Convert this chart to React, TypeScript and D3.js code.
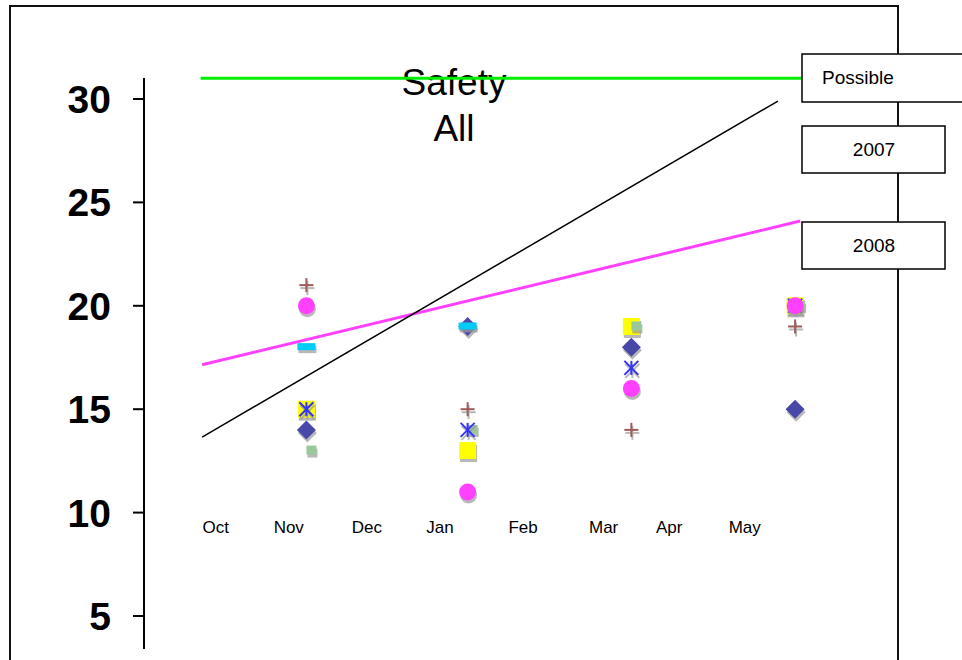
import React from "react";
import * as d3 from "d3";

// x values are days since Oct 1
const monthLabels = ["Oct", "Nov", "Dec", "Jan", "Feb", "Mar", "Apr", "May"];
const monthLabelDays = [1, 30, 61, 90, 123, 155, 181, 211];
const yTicks = [5, 10, 15, 20, 25, 30];

const sampleDays = [37, 101, 166, 231];
const greenDays = [39, 103, 168, 233];

const diamondValues = [14, 19, 18, 15];
const yellowValues = [15, 13, 19, 20];
const greenValues = [13, 14, 19, 20];
const asteriskValues = [15, 14, 17, 20];
const cyanValues: (number | null)[] = [18, 19, null, null];
const circleValues = [20, 11, 16, 20];
const plusValues = [21, 15, 14, 19];

const possibleLine = { days: [-5, 234], values: [31, 31] };
const line2007 = { days: [-4.4, 224.2], values: [13.65, 29.9] };
const line2008 = { days: [-4.4, 233], values: [17.15, 24.1] };

const legendLabels = ["Possible", "2007", "2008"];

const FONT = "'Liberation Sans', Arial, sans-serif";

export default function App() {
  const W = 962, H = 660;
  const x = d3.scaleLinear().domain([0, 100]).range([213.2, 213.2 + 251.9]);
  const y = d3.scaleLinear().domain([5, 30]).range([616, 99]);
  const lineGen = d3.line<[number, number]>().x(d => x(d[0])).y(d => y(d[1]));
  const mk = (l: { days: number[]; values: number[] }) =>
    lineGen(l.days.map((dd, i) => [dd, l.values[i]] as [number, number])) || "";

  const shadow = "#9a9a9a";
  const sdx = 1, sdy = 3;

  const diamond = (cx: number, cy: number, fill: string, k: string) => {
    const s = 9.5;
    const p = `M${cx},${cy - s}L${cx + s},${cy}L${cx},${cy + s}L${cx - s},${cy}Z`;
    return <path key={k} d={p} fill={fill} />;
  };
  const asterisk = (cx: number, cy: number, stroke: string, k: string) => {
    const s = 7;
    return (
      <g key={k} stroke={stroke} strokeWidth={2}>
        <line x1={cx - s} y1={cy - s} x2={cx + s} y2={cy + s} />
        <line x1={cx - s} y1={cy + s} x2={cx + s} y2={cy - s} />
        <line x1={cx} y1={cy - s} x2={cx} y2={cy + s} />
      </g>
    );
  };
  const plus = (cx: number, cy: number, stroke: string, k: string) => {
    const s = 7;
    return (
      <g key={k} stroke={stroke} strokeWidth={2}>
        <line x1={cx - s} y1={cy} x2={cx + s} y2={cy} />
        <line x1={cx} y1={cy - s} x2={cx} y2={cy + s} />
      </g>
    );
  };

  type Series = { days: number[]; values: (number | null)[]; draw: (cx: number, cy: number, c: string, k: string) => React.ReactNode; color: string; name: string };
  const series: Series[] = [
    { name: "diamond", days: sampleDays, values: diamondValues, color: "#4848a8", draw: diamond },
    { name: "yellow", days: sampleDays, values: yellowValues, color: "#ffff00", draw: (cx, cy, c, k) => <rect key={k} x={cx - 8.5} y={cy - 8.5} width={17} height={17} fill={c} /> },
    { name: "green", days: greenDays, values: greenValues, color: "#99c999", draw: (cx, cy, c, k) => <rect key={k} x={cx - 5} y={cy - 5} width={10} height={9} fill={c} /> },
    { name: "asterisk", days: sampleDays, values: asteriskValues, color: "#3333ff", draw: asterisk },
    { name: "cyan", days: sampleDays, values: cyanValues, color: "#00ccf5", draw: (cx, cy, c, k) => <rect key={k} x={cx - 9} y={cy - 4} width={18} height={7} fill={c} /> },
    { name: "circle", days: sampleDays, values: circleValues, color: "#ff40ff", draw: (cx, cy, c, k) => <circle key={k} cx={cx} cy={cy} r={8.5} fill={c} /> },
    { name: "plus", days: sampleDays, values: plusValues, color: "#a05a5a", draw: plus },
  ];

  const markers: React.ReactNode[] = [];
  series.forEach(s => {
    s.values.forEach((v, i) => {
      if (v == null) return;
      const cx = x(s.days[i]), cy = y(v);
      markers.push(<g key={`${s.name}-sh-${i}`} opacity={0.7}>{s.draw(cx + sdx, cy + sdy, shadow, "s")}</g>);
      markers.push(s.draw(cx, cy, s.color, `${s.name}-${i}`));
    });
  });

  const legendBoxes = [
    { x: 802, y: 54, w: 170, h: 48, anchor: "start", tx: 822 },
    { x: 802, y: 126, w: 143, h: 47, anchor: "middle", tx: 874 },
    { x: 802, y: 222, w: 143, h: 47, anchor: "middle", tx: 874 },
  ];

  return (
    <svg width={W} height={H} style={{ position: "absolute", left: 0, top: 0, background: "#fff" }}>
      <rect width={W} height={H} fill="#fff" />
      {/* frame */}
      <path d="M10,662V6H898V662" fill="none" stroke="#111" strokeWidth={2} />
      {/* title */}
      <text x={454} y={95} textAnchor="middle" fontFamily={FONT} fontSize={37} fill="#000">Safety</text>
      <text x={454} y={141} textAnchor="middle" fontFamily={FONT} fontSize={37} fill="#000">All</text>
      {/* lines */}
      <path d={mk(possibleLine)} stroke="#00ee00" strokeWidth={3} fill="none" />
      <path d={mk(line2008)} stroke="#ff40ff" strokeWidth={3} fill="none" />
      <path d={mk(line2007)} stroke="#000" strokeWidth={1.5} fill="none" />
      {/* y axis */}
      <line x1={144} y1={78} x2={144} y2={649} stroke="#000" strokeWidth={2} />
      {yTicks.map(t => (
        <g key={t}>
          <line x1={133} y1={y(t)} x2={144} y2={y(t)} stroke="#000" strokeWidth={2} />
          <text x={111} y={y(t) + 14} textAnchor="end" fontFamily={FONT} fontWeight="bold" fontSize={39} fill="#000">{t}</text>
        </g>
      ))}
      {/* month labels */}
      {monthLabels.map((m, i) => (
        <text key={m} x={x(monthLabelDays[i])} y={533} textAnchor="middle" fontFamily={FONT} fontSize={17} fill="#000">{m}</text>
      ))}
      {markers}
      {/* legend boxes */}
      {legendBoxes.map((b, i) => (
        <g key={legendLabels[i]}>
          <rect x={b.x} y={b.y} width={b.w} height={b.h} fill="#fff" stroke="#000" strokeWidth={1.5} />
          <text x={b.tx} y={b.y + b.h / 2 + 6} textAnchor={b.anchor as any} fontFamily={FONT} fontSize={19} fill="#000">{legendLabels[i]}</text>
        </g>
      ))}
    </svg>
  );
}
